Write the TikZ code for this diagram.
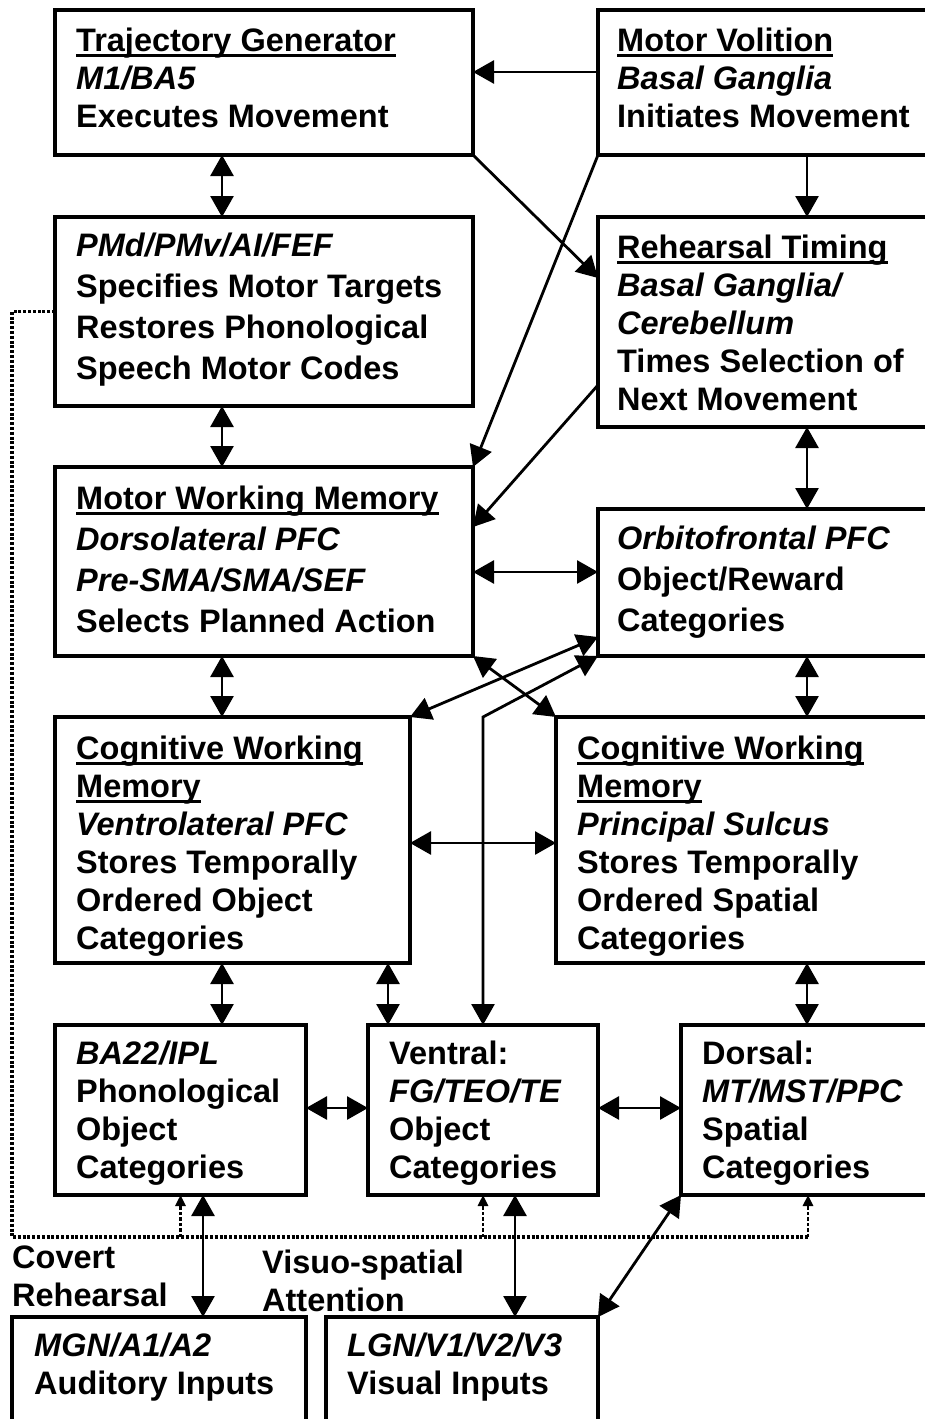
\documentclass[tikz,border=0pt]{standalone}
\usepackage{fontspec}
\setmainfont{Liberation Sans}
\usetikzlibrary{arrows.meta}
\newcommand\ulx[1]{\setbox0\hbox{#1}\rlap{\rule[-5pt]{\wd0}{2.4pt}}\box0}
\begin{document}
\begin{tikzpicture}[x=1pt,y=-1pt,
  bx/.style={draw,rectangle,line width=4pt,anchor=north west,inner sep=0pt,outer sep=0pt},
  txt/.style={anchor=north west,inner sep=0pt,align=left,font=\fontsize{32.5}{38}\selectfont\bfseries},
  txtw/.style={txt,font=\fontsize{32.5}{41}\selectfont\bfseries},
  arr/.style={draw,line width=2.8pt,-{Triangle[length=21pt,width=23pt]}},
  dbl/.style={draw,line width=2.8pt,{Triangle[length=21pt,width=23pt]}-{Triangle[length=21pt,width=23pt]}},
  dotl/.style={draw,line width=3.5pt,dash pattern=on 3pt off 1.8pt},
  dotarr/.style={draw,line width=2.6pt,dash pattern=on 3.5pt off 2pt,-{Triangle[length=11pt,width=10pt]}}]
\useasboundingbox (0,0) rectangle (925,1419);
\clip (0,0) rectangle (925,1419);
% boxes
\node[bx,minimum width=418pt,minimum height=145pt] (tg) at (55,10) {};
\node[bx,minimum width=347pt,minimum height=145pt] (mv) at (598,10) {};
\node[bx,minimum width=418pt,minimum height=189pt] (pmd) at (55,217) {};
\node[bx,minimum width=347pt,minimum height=210pt] (rt) at (598,217) {};
\node[bx,minimum width=418pt,minimum height=189pt] (mwm) at (55,467) {};
\node[bx,minimum width=347pt,minimum height=147pt] (ofc) at (598,509) {};
\node[bx,minimum width=355pt,minimum height=246pt] (cwml) at (55,717) {};
\node[bx,minimum width=389pt,minimum height=246pt] (cwmr) at (556,717) {};
\node[bx,minimum width=251pt,minimum height=170pt] (ba22) at (55,1025) {};
\node[bx,minimum width=230pt,minimum height=170pt] (ven) at (368,1025) {};
\node[bx,minimum width=264pt,minimum height=170pt] (dor) at (681,1025) {};
\node[bx,minimum width=294pt,minimum height=140pt] (mgn) at (12,1317) {};
\node[bx,minimum width=272pt,minimum height=140pt] (lgn) at (326,1317) {};
% texts
\node[txt] (tgt) at (76,28) {\ulx{Trajectory Generator}\\\itshape M1/BA5\\Executes Movement};
\node[txt] (mvt) at (617,28) {\ulx{Motor Volition}\\\itshape Basal Ganglia\\Initiates Movement};
\node[txtw] (pmdt) at (76,233) {\itshape PMd/PMv/AI/FEF\\Specifies Motor Targets\\Restores Phonological\\Speech Motor Codes};
\node[txt] (rtt) at (617,235) {\ulx{Rehearsal Timing}\\\itshape Basal Ganglia/\\\itshape Cerebellum\\Times Selection of\\Next Movement};
\node[txtw] (mwmt) at (76,486) {\ulx{Motor Working Memory}\\\itshape Dorsolateral PFC\\\itshape Pre-SMA/SMA/SEF\\Selects Planned Action};
\node[txtw] (ofct) at (617,526) {\itshape Orbitofrontal PFC\\Object/Reward\\Categories};
\node[txt] (cwmlt) at (76,736) {\ulx{Cognitive Working}\\\ulx{Memory}\\\itshape Ventrolateral PFC\\Stores Temporally\\Ordered Object\\Categories};
\node[txt] (cwmrt) at (577,736) {\ulx{Cognitive Working}\\\ulx{Memory}\\\itshape Principal Sulcus\\Stores Temporally\\Ordered Spatial\\Categories};
\node[txt] (ba22t) at (76,1041) {\itshape BA22/IPL\\Phonological\\Object\\Categories};
\node[txt] (vent) at (389,1041) {Ventral:\\\itshape FG/TEO/TE\\Object\\Categories};
\node[txt] (dort) at (702,1041) {Dorsal:\\\itshape MT/MST/PPC\\Spatial\\Categories};
\node[txt] (mgnt) at (34,1333) {\itshape MGN/A1/A2\\Auditory Inputs};
\node[txt] (lgnt) at (347,1333) {\itshape LGN/V1/V2/V3\\Visual Inputs};
\node[txt] (covt) at (12,1246) {Covert\\Rehearsal};
\node[txt] (vist) at (262,1250) {Visuo-spatial\\Attention};
% arrows
\draw[arr] ([yshift=10.5pt]mv.west) -- ([yshift=10.5pt]tg.east);
\draw[dbl] ([xshift=-42pt]tg.south) -- ([xshift=-42pt]pmd.north);
\draw[arr] ([xshift=35.5pt]mv.south) -- ([xshift=35.5pt]rt.north);
\draw[arr] (tg.south east) -- ([yshift=44pt]rt.west);
\draw[arr] (mv.south west) -- (mwm.north east);
\draw[arr] ([yshift=-63pt]rt.west) -- ([yshift=34.5pt]mwm.east);
\draw[dbl] ([xshift=-42pt]pmd.south) -- ([xshift=-42pt]mwm.north);
\draw[dbl] ([xshift=35.5pt]rt.south) -- ([xshift=35.5pt]ofc.north);
\draw[dbl] ([yshift=-10.5pt]mwm.east) -- ([yshift=10.5pt]ofc.west);
\draw[dbl] ([xshift=-42pt]mwm.south) -- ([xshift=-10.5pt]cwml.north);
\draw[dbl] ([xshift=35.5pt]ofc.south) -- ([xshift=56.5pt]cwmr.north);
\draw[dbl] (mwm.south east) -- (cwmr.north west);
\draw[dbl] ([yshift=-54.5pt]ofc.west) -- (cwml.north east);
\draw[dbl] (ofc.south west) -- (ven.north |- cwml.north) -- (ven.north);
\draw[dbl] ([yshift=-3pt]cwml.east) -- ([yshift=-3pt]cwmr.west);
\draw[dbl] ([xshift=-10.5pt]cwml.south) -- ([xshift=41.5pt]ba22.north);
\draw[dbl] ([xshift=155.5pt]cwml.south) -- ([xshift=-95pt]ven.north);
\draw[dbl] ([xshift=56.5pt]cwmr.south) -- ([xshift=-6pt]dor.north);
\draw[dbl] ([yshift=2pt]ba22.east) -- ([yshift=2pt]ven.west);
\draw[dbl] ([yshift=2pt]ven.east) -- ([yshift=2pt]dor.west);
\draw[dbl] ([xshift=22.5pt]ba22.south) -- ([xshift=44pt]mgn.north);
\draw[dbl] ([xshift=32pt]ven.south) -- ([xshift=53pt]lgn.north);
\draw[dbl] (dor.south west) -- (lgn.north east);
% dotted feedback
\coordinate (dl) at (12,1237);
\coordinate (dr) at (808,1237);
\draw[dotl] (pmd.west) -- (pmd.west -| dl) -- (dl) -- (dr);
\draw[dotarr] (ba22.south |- dl) -- (ba22.south);
\draw[dotarr] (ven.south |- dl) -- (ven.south);
\draw[dotarr] (dr) -- (dr |- dor.south);
\end{tikzpicture}
\end{document}
